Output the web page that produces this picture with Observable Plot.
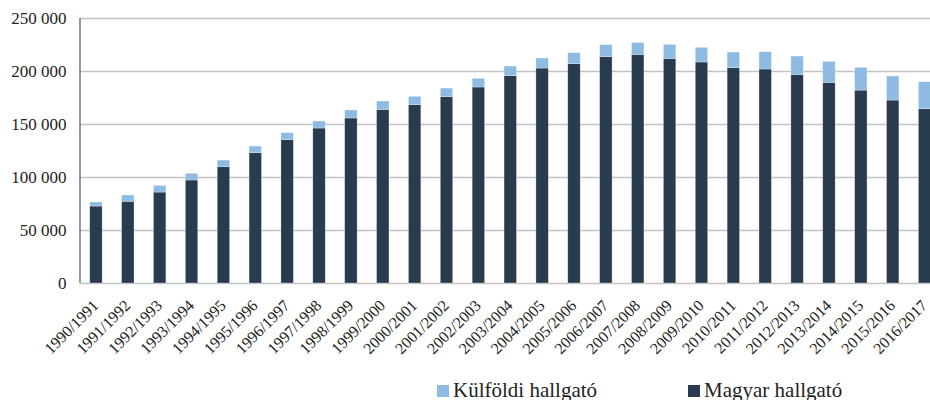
<!DOCTYPE html>
<html>
<head>
<meta charset="utf-8">
<script src="https://cdn.jsdelivr.net/npm/d3@7"></script>
<script src="https://cdn.jsdelivr.net/npm/@observablehq/plot@0.6"></script>
<style>
  html, body { margin: 0; padding: 0; background: #fff; overflow: hidden; }
  #wrap { position: relative; width: 930px; height: 400px; font-family: 'Liberation Serif', serif; }
  #chart svg, #chart svg text { font-family: 'Liberation Serif', serif !important; }
  #legend { position: absolute; left: 0; top: 379.5px; width: 930px; height: 21px; font-family: 'Liberation Serif', serif; font-size: 21px; line-height: 21px; color: #222; }
  .item { position: absolute; top: 0; white-space: nowrap; font-family: 'Liberation Serif', serif; }
  .sw { display: inline-block; width: 12px; height: 12px; margin-right: 4px; vertical-align: baseline; }
</style>
</head>
<body>
<div id="wrap"><div id="chart"></div><div id="legend"></div></div>
<script>
const years = ["1990/1991","1991/1992","1992/1993","1993/1994","1994/1995","1995/1996","1996/1997","1997/1998","1998/1999","1999/2000","2000/2001","2001/2002","2002/2003","2003/2004","2004/2005","2005/2006","2006/2007","2007/2008","2008/2009","2009/2010","2010/2011","2011/2012","2012/2013","2013/2014","2014/2015","2015/2016","2016/2017"];
const magyar = [72600, 77100, 85800, 97200, 109700, 122900, 135200, 146200, 155700, 163800, 168200, 175800, 184900, 195600, 202800, 206900, 213500, 215700, 211900, 208500, 203100, 201900, 196800, 189300, 182000, 172600, 164400];
const kulfoldi = [3800, 5900, 6300, 6300, 6300, 6300, 6600, 6600, 7500, 7900, 7900, 8100, 8200, 9100, 9500, 10400, 11300, 11300, 13200, 13800, 14800, 16300, 17300, 19800, 21400, 22700, 25500];
const seriesNames = ["Magyar hallgató", "Külföldi hallgató"];
const seriesColors = ["#293b4e", "#8dbbe2"];
const yTicks = [0, 50000, 100000, 150000, 200000, 250000];

const rows = [];
years.forEach((y, i) => {
  rows.push({year: y, series: seriesNames[0], value: magyar[i]});
  rows.push({year: y, series: seriesNames[1], value: kulfoldi[i]});
});

const fmt = d => d3.format(",")(d).replace(/,/g, " ");

// left axis line drawn from the library's y scale
function leftAxisLine(index, scales, values, dimensions) {
  const ns = "http://www.w3.org/2000/svg";
  const line = document.createElementNS(ns, "line");
  const x0 = dimensions.marginLeft;
  line.setAttribute("x1", x0);
  line.setAttribute("x2", x0);
  line.setAttribute("y1", scales.y(yTicks[yTicks.length - 1]));
  line.setAttribute("y2", scales.y(yTicks[0]));
  line.setAttribute("stroke", "#4a5868");
  line.setAttribute("stroke-width", 1.2);
  return line;
}

const chart = Plot.plot({
  width: 930,
  height: 379,
  marginTop: 18,
  marginBottom: 96,
  marginLeft: 80,
  marginRight: 0,
  style: {fontFamily: "'Liberation Serif', serif", fontSize: "16px", color: "#222", background: "#fff", overflow: "visible"},
  x: {domain: years, range: [80, 940.5], paddingInner: 0.61, paddingOuter: 0.305, round: false, label: null, axis: null},
  y: {domain: [0, 250000], label: null, axis: null},
  color: {domain: seriesNames, range: seriesColors},
  marks: [
    Plot.ruleY(yTicks, {stroke: "#c2c2c2", strokeWidth: 1.4}),
    Plot.barY(rows, {x: "year", y: "value", fill: "series", order: seriesNames, stroke: "#ffffff", strokeOpacity: 0.5, strokeWidth: 0.6}),
    leftAxisLine,
    Plot.axisY({ticks: yTicks, tickFormat: fmt, tickSize: 0, tickPadding: 14, fontSize: 17}),
    Plot.text(years, {x: d => d, frameAnchor: "bottom", rotate: -45, textAnchor: "end", lineAnchor: "bottom", dx: 3, dy: 23, fontSize: 16, fill: "#222"})
  ]
});
document.getElementById("chart").appendChild(chart);

const legendItems = [
  {name: "Külföldi hallgató", color: seriesColors[1], left: 437},
  {name: "Magyar hallgató", color: seriesColors[0], left: 688}
];
const legend = document.getElementById("legend");
legendItems.forEach(it => {
  const d = document.createElement("div");
  d.className = "item";
  d.style.left = it.left + "px";
  const sw = document.createElement("span");
  sw.className = "sw";
  sw.style.background = it.color;
  d.appendChild(sw);
  d.appendChild(document.createTextNode(it.name));
  legend.appendChild(d);
});
</script>
</body>
</html>
